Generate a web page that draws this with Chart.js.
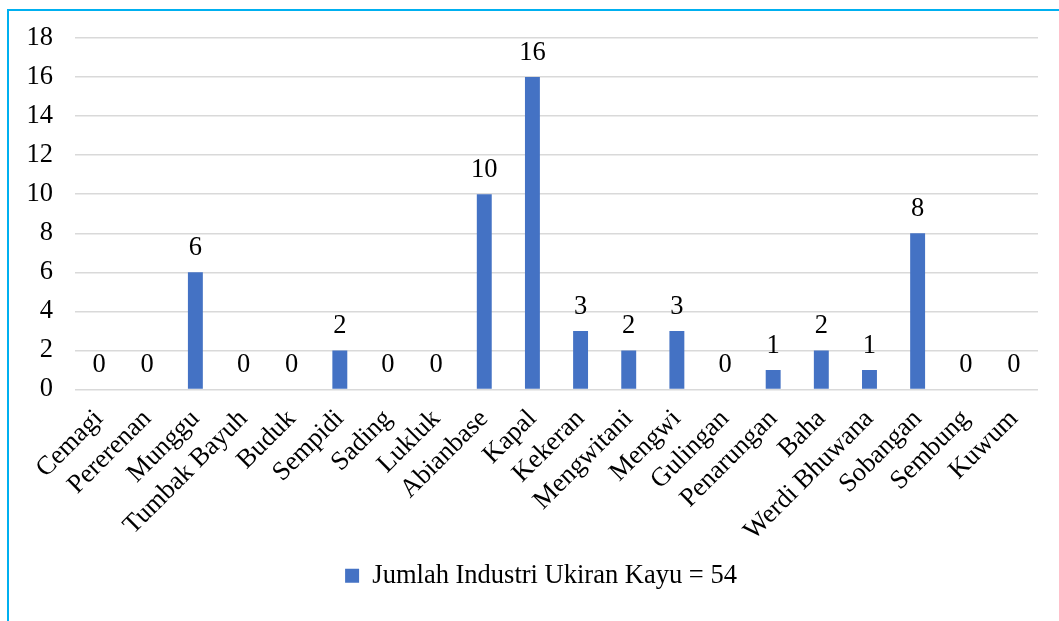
<!DOCTYPE html>
<html>
<head>
<meta charset="utf-8">
<script src="https://cdn.jsdelivr.net/npm/chart.js@4/dist/chart.umd.min.js"></script>
<style>
  html, body { margin: 0; padding: 0; background: #fff; overflow: hidden; }
  #wrap { position: absolute; left: 0; top: 0; width: 1059px; height: 621px; }
  #frame { position: absolute; left: 7px; top: 9px; width: 1100px; height: 700px;
           border-top: 2px solid #00B0F0; border-left: 2px solid #00B0F0; pointer-events: none; }
</style>
</head>
<body>
<div id="wrap"><canvas id="c" width="1059" height="621"></canvas></div>
<div id="frame"></div>
<script>
const categories = ["Cemagi", "Pererenan", "Munggu", "Tumbak Bayuh", "Buduk", "Sempidi", "Sading", "Lukluk",
  "Abianbase", "Kapal", "Kekeran", "Mengwitani", "Mengwi", "Gulingan", "Penarungan", "Baha",
  "Werdi Bhuwana", "Sobangan", "Sembung", "Kuwum"];
const industryCounts = [0, 0, 6, 0, 0, 2, 0, 0, 10, 16, 3, 2, 3, 0, 1, 2, 1, 8, 0, 0];
const seriesLabel = "Jumlah Industri Ukiran Kayu = 54";
const yTicks = [0, 2, 4, 6, 8, 10, 12, 14, 16, 18];

const FONT = "'Liberation Serif', 'Times New Roman', serif";
const FSIZE = 26.5;
Chart.defaults.font.family = FONT;
Chart.defaults.font.size = FSIZE;
Chart.defaults.color = '#000';

const valueLabels = {
  id: 'valueLabels',
  afterDatasetsDraw(chart) {
    const ctx = chart.ctx;
    ctx.save();
    ctx.font = FSIZE + "px " + FONT;
    ctx.fillStyle = '#000';
    ctx.textAlign = 'center';
    ctx.textBaseline = 'middle';
    chart.data.datasets.forEach((ds, di) => {
      chart.getDatasetMeta(di).data.forEach((el, i) => {
        ctx.fillText(String(ds.data[i]), el.x, el.y - 24);
      });
    });
    ctx.restore();
  }
};

const legendShift = {
  id: 'legendShift',
  afterLayout(chart) {
    if (chart.legend) { chart.legend.left += 22; chart.legend.right += 22; }
  }
};

new Chart(document.getElementById('c'), {
  type: 'bar',
  data: {
    labels: categories,
    datasets: [{
      label: seriesLabel,
      data: industryCounts,
      backgroundColor: '#4472C4',
      borderWidth: 0,
      categoryPercentage: 1.0,
      barPercentage: 0.31
    }]
  },
  options: {
    responsive: false,
    animation: false,
    layout: { padding: { top: 38, right: 21, bottom: 22, left: 0 } },
    plugins: {
      legend: {
        position: 'bottom',
        labels: { boxWidth: 14, boxHeight: 14, padding: 10, font: { size: FSIZE, family: FONT }, color: '#000' }
      },
      tooltip: { enabled: false }
    },
    scales: {
      x: {
        grid: { display: false },
        border: { display: false },
        ticks: { autoSkip: false, minRotation: 45, maxRotation: 45, padding: 6, font: { size: FSIZE } },
        afterFit(scale) { scale.height = 163; }
      },
      y: {
        min: 0, max: 18,
        afterBuildTicks(scale) { scale.ticks = yTicks.map(v => ({ value: v })); },
        grid: { color: '#d9d9d9', lineWidth: 1.5, drawTicks: false },
        border: { display: false },
        ticks: { padding: 22, font: { size: FSIZE } },
        afterFit(scale) { scale.width = 75; }
      }
    }
  },
  plugins: [valueLabels, legendShift]
});
</script>
</body>
</html>
